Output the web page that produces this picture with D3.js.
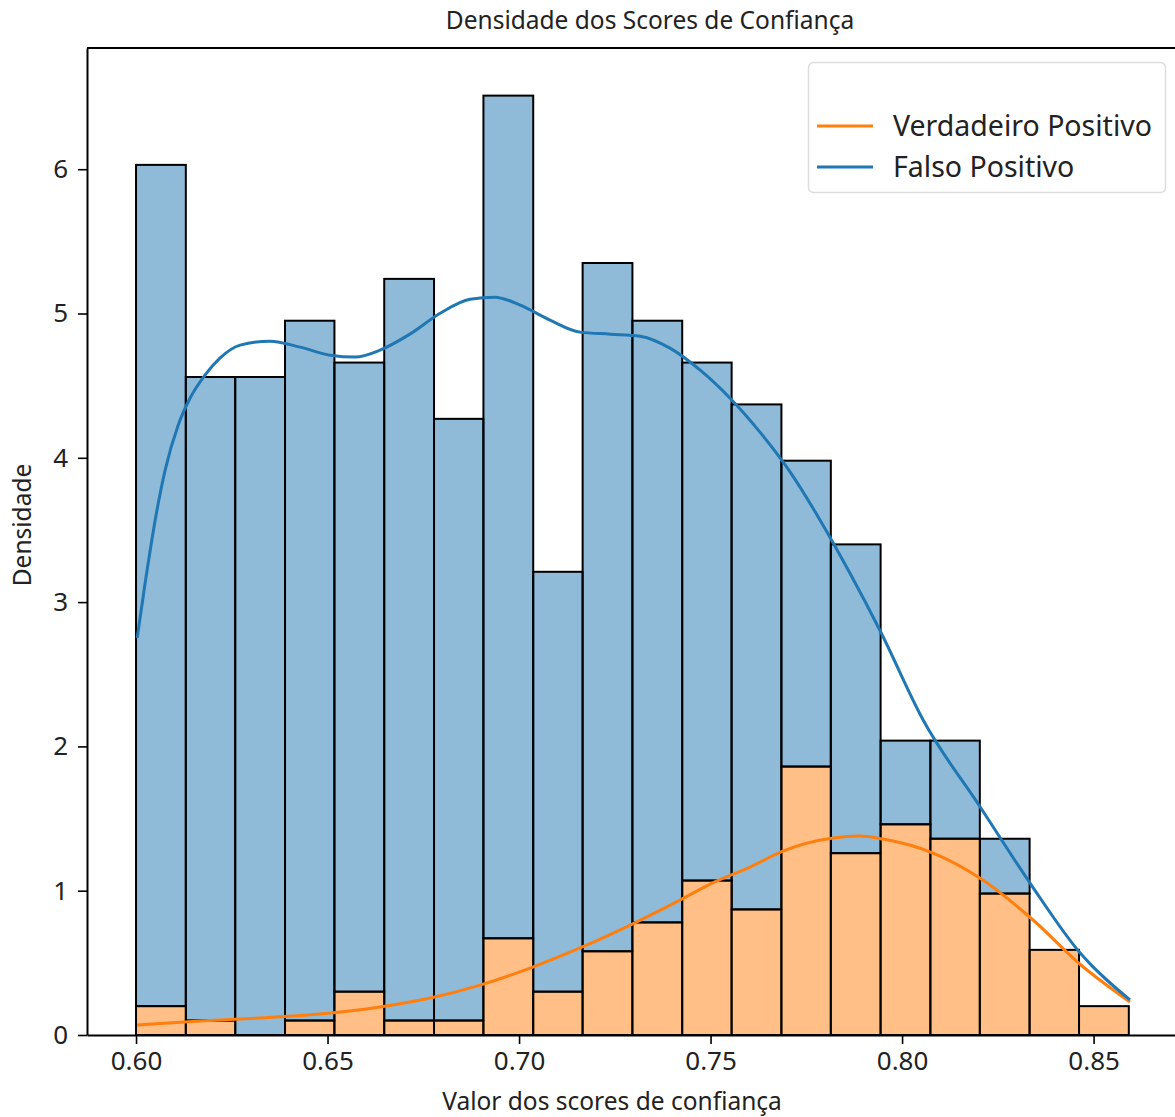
<!DOCTYPE html>
<html>
<head>
<meta charset="utf-8">
<script src="https://cdn.jsdelivr.net/npm/d3@7"></script>
<style>
  body { margin: 0; background: #fff; }
  text { font-family: "Noto Sans", "Open Sans", sans-serif; fill: #222; }
</style>
</head>
<body>
<div id="chart"></div>
<script>
// histogram bin edges (score value)
const binEdges = [0.6000, 0.6130, 0.6259, 0.6389, 0.6518, 0.6648, 0.6778, 0.6907, 0.7037, 0.7166,
  0.7296, 0.7426, 0.7555, 0.7685, 0.7814, 0.7944, 0.8074, 0.8203, 0.8333, 0.8462, 0.8592]

// density per bin, stacked: orange at the bottom, blue on top
const verdadeiroDens = [0.20, 0.10, 0.00, 0.10, 0.30, 0.10, 0.10, 0.67, 0.30, 0.58,
  0.78, 1.07, 0.87, 1.86, 1.26, 1.46, 1.36, 0.98, 0.59, 0.20]
const falsoDens = [5.83, 4.46, 4.56, 4.85, 4.36, 5.14, 4.17, 5.84, 2.91, 4.77,
  4.17, 3.59, 3.50, 2.12, 2.14, 0.58, 0.68, 0.38, 0.00, 0.00]

// kde curves (blue one is stacked on the orange one)
const kdeVerdadeiro = [
  [0.6003, 0.069], [0.6167, 0.097], [0.6324, 0.118], [0.6480, 0.145], [0.6637, 0.194],
  [0.6768, 0.256], [0.6898, 0.346], [0.7029, 0.464], [0.7159, 0.603], [0.7290, 0.762],
  [0.7420, 0.935], [0.7499, 1.046], [0.7603, 1.164], [0.7689, 1.275], [0.7820, 1.365],
  [0.7890, 1.379], [0.7950, 1.358], [0.8081, 1.261], [0.8211, 1.074], [0.8342, 0.797],
  [0.8467, 0.485], [0.8595, 0.229]
]
const kdeFalso = [
  [0.6003, 2.751], [0.6023, 3.118], [0.6050, 3.568], [0.6076, 3.915], [0.6110, 4.226],
  [0.6141, 4.413], [0.6180, 4.573], [0.6219, 4.691], [0.6272, 4.781], [0.6350, 4.808],
  [0.6428, 4.767], [0.6507, 4.711], [0.6572, 4.698], [0.6637, 4.746], [0.6715, 4.857],
  [0.6794, 5.002], [0.6872, 5.099], [0.6937, 5.113], [0.7003, 5.058], [0.7081, 4.954],
  [0.7159, 4.871], [0.7238, 4.857], [0.7316, 4.843], [0.7394, 4.760], [0.7473, 4.607],
  [0.7551, 4.413], [0.7629, 4.178], [0.7708, 3.901], [0.7786, 3.568], [0.7864, 3.200],
  [0.7943, 2.800], [0.8055, 2.183], [0.8204, 1.580], [0.8334, 1.053], [0.8465, 0.568],
  [0.8595, 0.243]
]

const xTicks = [0.60, 0.65, 0.70, 0.75, 0.80, 0.85]
const yTicks = [0, 1, 2, 3, 4, 5, 6]
const legendLabels = ['Verdadeiro Positivo', 'Falso Positivo']

const width = 1175
const height = 1117
const margin = { top: 48, right: -4, bottom: 82, left: 87 }

const blue = '#1f77b4'
const orange = '#ff7f0e'

const svg = d3.select('#chart').append('svg')
  .attr('width', width)
  .attr('height', height)

const x = d3.scaleLinear()
  .domain([0.5872, 0.8723])
  .range([margin.left, width - margin.right])
const y = d3.scaleLinear()
  .domain([0, 6.84])
  .range([height - margin.bottom, margin.top])

// bars
const bins = verdadeiroDens.map((v, i) => ({
  x0: binEdges[i],
  x1: binEdges[i + 1],
  vp: v,
  fp: falsoDens[i]
}))

const barG = svg.append('g')
  .attr('stroke', '#000')
  .attr('stroke-width', 2)

barG.selectAll('rect.fp')
  .data(bins.filter(d => d.fp > 0))
  .join('rect')
  .attr('class', 'fp')
  .attr('x', d => x(d.x0))
  .attr('width', d => x(d.x1) - x(d.x0))
  .attr('y', d => y(d.vp + d.fp))
  .attr('height', d => y(d.vp) - y(d.vp + d.fp))
  .attr('fill', blue)
  .attr('fill-opacity', 0.5)

barG.selectAll('rect.vp')
  .data(bins.filter(d => d.vp > 0))
  .join('rect')
  .attr('class', 'vp')
  .attr('x', d => x(d.x0))
  .attr('width', d => x(d.x1) - x(d.x0))
  .attr('y', d => y(d.vp))
  .attr('height', d => y(0) - y(d.vp))
  .attr('fill', orange)
  .attr('fill-opacity', 0.5)

// kde lines
const line = d3.line()
  .x(d => x(d[0]))
  .y(d => y(d[1]))
  .curve(d3.curveMonotoneX)

svg.append('path')
  .datum(kdeVerdadeiro)
  .attr('d', line)
  .attr('fill', 'none')
  .attr('stroke', orange)
  .attr('stroke-width', 3)

svg.append('path')
  .datum(kdeFalso)
  .attr('d', line)
  .attr('fill', 'none')
  .attr('stroke', blue)
  .attr('stroke-width', 3)

// axes
const xAxis = svg.append('g')
  .attr('transform', `translate(0,${height - margin.bottom})`)
  .call(d3.axisBottom(x).tickValues(xTicks).tickFormat(d3.format('.2f')).tickSize(9).tickSizeOuter(0))
const yAxis = svg.append('g')
  .attr('transform', `translate(${margin.left},0)`)
  .call(d3.axisLeft(y).tickValues(yTicks).tickFormat(d3.format('d')).tickSize(9).tickSizeOuter(0))

for (const ax of [xAxis, yAxis]) {
  ax.select('.domain').attr('stroke', '#000').attr('stroke-width', 2)
  ax.selectAll('.tick line').attr('stroke', '#000').attr('stroke-width', 1.6)
  ax.selectAll('.tick text')
    .attr('font-size', 26)
    .attr('font-family', '"Noto Sans", sans-serif')
    .attr('fill', '#222')
}
xAxis.selectAll('.tick text').attr('y', 17)
yAxis.selectAll('.tick text').attr('x', -19)

// top spine (right spine falls outside the picture)
svg.append('line')
  .attr('x1', margin.left)
  .attr('x2', width)
  .attr('y1', margin.top)
  .attr('y2', margin.top)
  .attr('stroke', '#000')
  .attr('stroke-width', 2)

// titles
svg.append('text')
  .attr('x', 650)
  .attr('y', 29)
  .attr('text-anchor', 'middle')
  .attr('font-size', 24.5)
  .text('Densidade dos Scores de Confiança')

svg.append('text')
  .attr('x', 612)
  .attr('y', 1110)
  .attr('text-anchor', 'middle')
  .attr('font-size', 24.5)
  .text('Valor dos scores de confiança')

svg.append('text')
  .attr('transform', 'translate(31,525) rotate(-90)')
  .attr('text-anchor', 'middle')
  .attr('font-size', 24.5)
  .text('Densidade')

// legend
const legend = svg.append('g')
legend.append('rect')
  .attr('x', 808.5)
  .attr('y', 62.5)
  .attr('width', 357)
  .attr('height', 130)
  .attr('rx', 5)
  .attr('fill', '#fff')
  .attr('fill-opacity', 0.8)
  .attr('stroke', '#ddd')
  .attr('stroke-width', 1.5)

const legendItems = legend.selectAll('g.item')
  .data(legendLabels)
  .join('g')
  .attr('class', 'item')
  .attr('transform', (d, i) => `translate(817,${126 + i * 41})`)

legendItems.append('line')
  .attr('x1', 0)
  .attr('x2', 56)
  .attr('stroke', (d, i) => (i === 0 ? orange : blue))
  .attr('stroke-width', 3)

legendItems.append('text')
  .attr('x', 76)
  .attr('dy', '0.35em')
  .attr('font-size', 28.5)
  .text(d => d)
</script>
</body>
</html>
